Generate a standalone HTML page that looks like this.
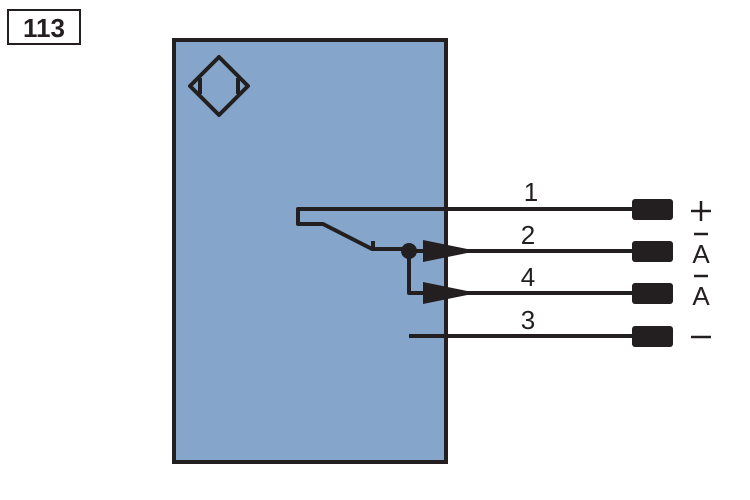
<!DOCTYPE html>
<html><head><style>body{margin:0;background:#fff}svg{display:block}</style></head><body>
<svg width="750" height="500" viewBox="0 0 750 500" xmlns="http://www.w3.org/2000/svg">
<rect x="8" y="10" width="72" height="34" fill="#fff" stroke="#231f20" stroke-width="2"/>
<text x="44" y="37" text-anchor="middle" font-family="Liberation Sans, sans-serif" font-weight="bold" font-size="26" fill="#231f20">113</text>
<rect x="174" y="40" width="272" height="422" fill="#86a5ca" stroke="#231f20" stroke-width="4"/>
<g stroke="#231f20" stroke-width="4" fill="none" stroke-linejoin="round">
<polygon points="219,57 248,86 219,115 190,86"/>
<line x1="200" y1="78" x2="200" y2="94"/>
<line x1="238" y1="78" x2="238" y2="94"/>
<polyline points="632,209 298,209 298,224 323,224 372,249 409,249"/>
<line x1="373" y1="241" x2="373" y2="250"/>
<line x1="409" y1="251" x2="632" y2="251"/>
<polyline points="409,251 409,293 632,293"/>
<line x1="409" y1="336" x2="632" y2="336"/>
</g>
<circle cx="409" cy="251" r="8" fill="#231f20"/>
<polygon points="423,240 477,251 423,262" fill="#231f20"/>
<polygon points="423,282 477,293 423,304" fill="#231f20"/>
<g fill="#231f20">
<rect x="632" y="199" width="41" height="21" rx="3"/>
<rect x="632" y="241" width="41" height="21" rx="3"/>
<rect x="632" y="283" width="41" height="21" rx="3"/>
<rect x="632" y="326" width="41" height="21" rx="3"/>
</g>
<g font-family="Liberation Sans, sans-serif" font-size="26" fill="#231f20" text-anchor="middle">
<text x="531" y="201">1</text>
<text x="528" y="244">2</text>
<text x="528" y="286">4</text>
<text x="528" y="329">3</text>
<text x="701" y="263">A</text>
<text x="701" y="305">A</text>
</g>
<g stroke="#231f20" stroke-width="2.5">
<line x1="691" y1="211" x2="711" y2="211"/>
<line x1="701" y1="201" x2="701" y2="221"/>
<line x1="691" y1="337" x2="711" y2="337"/>
<line x1="694" y1="234" x2="708" y2="234"/>
<line x1="694" y1="276" x2="708" y2="276"/>
</g>
</svg>
</body></html>
